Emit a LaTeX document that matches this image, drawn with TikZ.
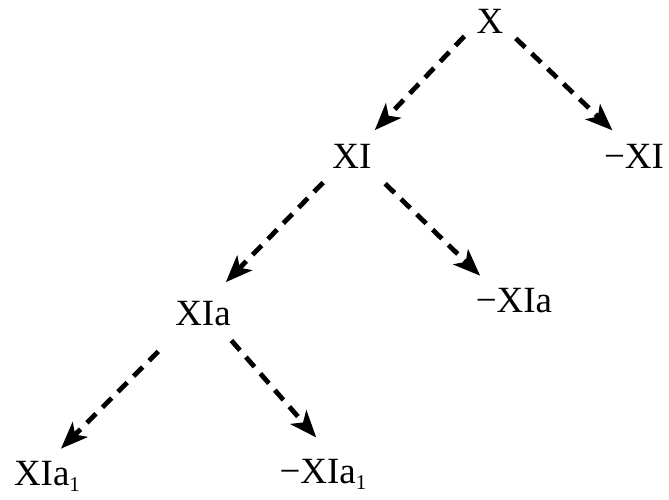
\documentclass[tikz,border=0pt]{standalone}
\usepackage{fontspec}
\setmainfont{Liberation Serif}
\usepackage{tikz}
\usetikzlibrary{arrows.meta}
\newcommand{\lowone}{\raisebox{-6pt}{\fontsize{21}{21}\selectfont 1}}

\begin{document}
\begin{tikzpicture}[
    x=1pt, y=-1pt,
    term/.style={inner sep=10pt, text height=24pt, text depth=0pt, font=\fontsize{37}{42}\selectfont},
    arrow/.style={-{Stealth[length=27pt, width=21pt, inset=7pt]}, line width=4.8pt, dash pattern=on 13pt off 9pt, shorten >=3pt, shorten <=3pt}
]
    \useasboundingbox (0,0) rectangle (669,499);

    % Root
    \node[term] (x) at (490,21) {X};

    % First split
    \node[term] (xi) at (352,156) {XI};
    \node[term] (nxi) at (634,156) {−XI};

    % Second split
    \node[term] (xia) at (203,313) {XIa};
    \node[term] (nxia) at (514,300) {−XIa};

    % Third split
    \node[term] (xiaone) at (47,473) {XIa\lowone};
    \node[term] (nxiaone) at (323,471) {−XIa\lowone};

    % Arrows
    \draw[arrow, shorten >=5pt] (x.209) -- (xi.49);
    \draw[arrow, shorten >=5pt] (x.-33) -- (nxi.129);
    \draw[arrow, shorten <=6pt, shorten >=12pt] (xi.222) -- (xia.57);
    \draw[arrow, shorten <=8pt] (xi.-39) -- (nxia.145);
    \draw[arrow, shorten <=23pt] (xia.218) -- (xiaone.62);
    \draw[arrow, shorten <=7pt, shorten >=15pt] (xia.-43) -- (nxiaone.82);
\end{tikzpicture}
\end{document}
